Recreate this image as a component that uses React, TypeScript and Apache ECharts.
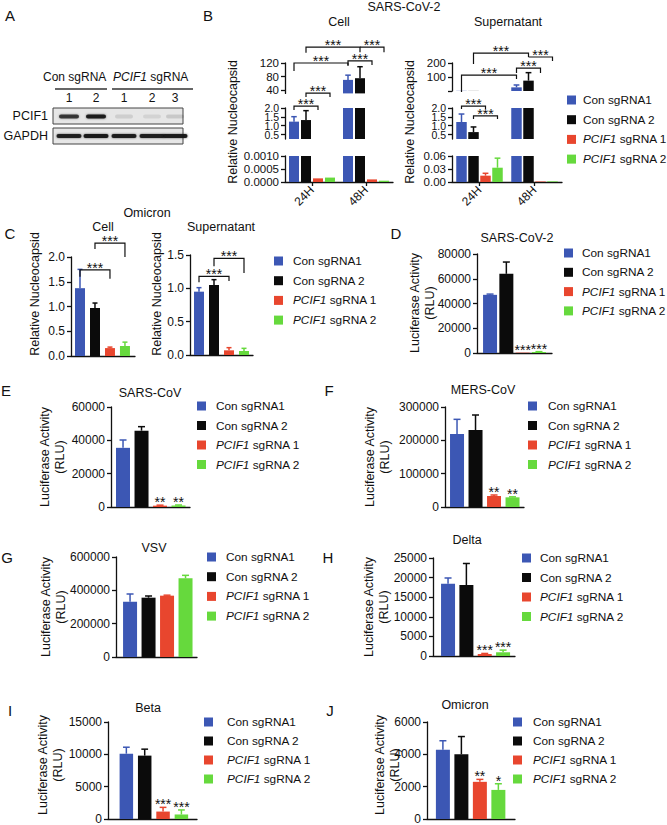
import React, { useEffect, useRef } from 'react';
import * as echarts from 'echarts';

const FONT = '"Liberation Sans", Arial, Helvetica, sans-serif';
const INK = '#111111';
const groupColors = ['#3c57b4', '#0b0b0b', '#e8462e', '#66d93d'];
const legendLabels = ['Con sgRNA1', 'Con sgRNA 2', '{i|PCIF1} sgRNA 1', '{i|PCIF1} sgRNA 2'];

// ---------- A: western blot
const blotLanes = ['1', '2', '1', '2', '3'];
const pcif1Signal = [0.8, 0.95, 0.1, 0.08, 0.12];
const gapdhSignal = [0.92, 0.97, 0.94, 0.93, 0.95];

// ---------- B: SARS-CoV-2 (broken axes)
const timeCategories = ['24H', '48H'];
const bCellCon1 = [1.23, 70];
const bCellCon2 = [1.32, 75];
const bCellPcif1 = [0.00014, 0.0001];
const bCellPcif2 = [0.00017, 0.00005];
const bCellCon1Err = [0.28, 14];
const bCellCon2Err = [0.53, 34];
const bCellPcif1Err = [0, 0];
const bCellPcif2Err = [0, 0];
const bSupCon1 = [1.21, 26];
const bSupCon2 = [0.64, 74];
const bSupPcif1 = [0.0146, 0.0012];
const bSupPcif2 = [0.033, 0.0015];
const bSupCon1Err = [0.45, 17];
const bSupCon2Err = [0.29, 57];
const bSupPcif1Err = [0.0055, 0];
const bSupPcif2Err = [0.022, 0];
const bCellRanges = [[30, 120], [0.25, 2], [0, 0.001]];
const bCellTicks = [[40, 80, 120], [0.5, 1, 1.5, 2], [0, 0.0005, 0.001]];
const bCellLabels = [[40, 80, 120], [0.5, 1, 1.5, 2], [0, 0.0005, 0.001]];
const bSupRanges = [[0, 200], [0.25, 2], [0, 0.06]];
const bSupTicks = [[0, 100, 200], [0.5, 1, 1.5, 2], [0, 0.03, 0.06]];
const bSupLabels = [[100, 200], [0.5, 1, 1.5, 2], [0, 0.03, 0.06]];
// [segment, fromSeries, fromCat, toSeries, toCat, lineValue, leftEnd, rightEnd]
const bCellBrackets = [
  [1, 0, 0, 2, 0, 2.11, 1.89, 1.89],
  [0, 1, 0, 3, 0, 31, 19, 19],
  [0, 0, 0, 0, 1, 120, 96, 111],
  [0, 1, 0, 1, 1, 167, 150, 152],
  [0, 0, 1, 2, 1, 126, 114, 114],
  [0, 1, 1, 3, 1, 167, 167, 152],
];
const bSupBrackets = [
  [1, 0, 0, 2, 0, 2.11, 1.94, 1.94],
  [1, 1, 0, 3, 0, 1.55, 1.38, 1.38],
  [0, 0, 0, 0, 1, 114, -7, 86],
  [0, 1, 0, 1, 1, 271, 193, 243],
  [0, 0, 1, 2, 1, 164, 129, 129],
  [0, 1, 1, 3, 1, 243, 243, 214],
];

// ---------- C: Omicron nucleocapsid
const cCellMean = [1.37, 0.97, 0.16, 0.2];
const cCellErr = [0.38, 0.1, 0.02, 0.08];
const cSupMean = [0.95, 1.05, 0.07, 0.06];
const cSupErr = [0.06, 0.08, 0.04, 0.04];
// [fromIdx, toIdx, lineValue, leftEnd, rightEnd]
const cCellBrackets = [[0, 2, 1.74, 1.6, 1.56], [1, 3, 2.28, 2.16, 2.0]];
const cSupBrackets = [[0, 2, 1.18, 1.09, 1.11], [1, 3, 1.45, 1.33, 1.23]];

// ---------- D - J: luciferase activity (RLU)
const dMean = [47000, 64000, 300, 800];
const dErr = [600, 9500, 0, 300];
const dSig = ['', '', '***', '***'];
const eMean = [35500, 45800, 800, 900];
const eErr = [4700, 2400, 300, 300];
const eSig = ['', '', '**', '**'];
const fMean = [219000, 231000, 33000, 29000];
const fErr = [44000, 45000, 3000, 1500];
const fSig = ['', '', '**', '**'];
const gMean = [332000, 356000, 368000, 472000];
const gErr = [46000, 10000, 3000, 18000];
const gSig = ['', '', '', ''];
const hMean = [18400, 18100, 500, 950];
const hErr = [1500, 5500, 150, 550];
const hSig = ['', '', '***', '***'];
const iMean = [10100, 9800, 1150, 700];
const iErr = [1000, 1000, 650, 700];
const iSig = ['', '', '***', '***'];
const jMean = [4280, 4000, 2300, 1800];
const jErr = [560, 1100, 150, 380];
const jSig = ['', '', '**', '*'];

// ---------- helpers
const lineStyle = { color: INK, width: 1.3 };

function txt(text: string, x: number, y: number, o: any = {}) {
  const size = o.size ?? 12.5;
  const align = o.align ?? 'center';
  const va = o.va ?? 'middle';
  return {
    type: 'text',
    x,
    y,
    rotation: o.rotation ?? 0,
    z: 20,
    style: {
      text,
      fontSize: size,
      fontFamily: FONT,
      fontStyle: o.italic ? 'italic' : 'normal',
      fill: INK,
      align,
      verticalAlign: va,
      textAlign: align,
      textVerticalAlign: va,
      lineHeight: o.lineHeight,
      rich: {
        i: { fontStyle: 'italic', fontSize: size, fontFamily: FONT, fill: INK },
      },
    },
  };
}

function starText(s: string, x: number, y: number) {
  return {
    type: 'text',
    x,
    y,
    style: {
      text: s,
      fontSize: 14,
      fontFamily: FONT,
      fill: INK,
      align: 'center',
      verticalAlign: 'middle',
      textAlign: 'center',
      textVerticalAlign: 'middle',
    },
  };
}

function errGroup(x: number, yBase: number, yTop: number, hasErr: boolean, color: string, cap: number, star: string) {
  const ch: any[] = [];
  if (hasErr) {
    ch.push({ type: 'line', shape: { x1: x, y1: yBase, x2: x, y2: yTop }, style: { stroke: color, lineWidth: 1.5 } });
    ch.push({ type: 'line', shape: { x1: x - cap / 2, y1: yTop, x2: x + cap / 2, y2: yTop }, style: { stroke: color, lineWidth: 1.5 } });
  }
  if (star) ch.push(starText(star, x, yTop - 3));
  return { type: 'group', children: ch };
}

function bracketGroup(x1: number, x2: number, yLine: number, yL: number, yR: number) {
  return {
    type: 'group',
    children: [
      {
        type: 'polyline',
        shape: { points: [[x1, yL], [x1, yLine], [x2, yLine], [x2, yR]] },
        style: { stroke: INK, lineWidth: 1.2, fill: 'none' },
      },
      starText('***', (x1 + x2) / 2, yLine - 2),
    ],
  };
}

function buildOption() {
  const grid: any[] = [];
  const xAxis: any[] = [];
  const yAxis: any[] = [];
  const series: any[] = [];
  const elements: any[] = [];

  // ---------- simple bar panel
  function addSimple(p: any) {
    const gi = grid.length;
    const xi = xAxis.length;
    const yi = yAxis.length;
    grid.push({ left: p.left, top: p.top, width: p.width, height: p.height, containLabel: false });
    xAxis.push({
      type: 'value', gridIndex: gi, min: p.xMin, max: p.xMax,
      axisLine: { show: true, onZero: false, lineStyle },
      axisTick: { show: false }, axisLabel: { show: false }, splitLine: { show: false },
    });
    yAxis.push({
      type: 'value', gridIndex: gi, min: 0, max: p.yMax, interval: p.yInt,
      axisLine: { show: true, onZero: false, lineStyle },
      axisTick: { show: true, length: 4, lineStyle },
      axisLabel: {
        fontSize: 12, fontFamily: FONT, color: INK, margin: 6,
        showMinLabel: true, showMaxLabel: true,
        formatter: p.fmt || ((v: number) => String(v)),
      },
      splitLine: { show: false },
    });
    series.push({
      type: 'bar', xAxisIndex: xi, yAxisIndex: yi, barWidth: p.barW,
      data: p.mean.map((v: number, i: number) => ({ value: [i, v], itemStyle: { color: groupColors[i] } })),
    });
    const items = p.mean.map((v: number, i: number) => [i, v, p.err[i]]);
    series.push({
      type: 'custom', xAxisIndex: xi, yAxisIndex: yi, z: 4, clip: false,
      data: items,
      renderItem: (params: any, api: any) => {
        const [i, m, e] = items[params.dataIndex];
        const b = api.coord([i, m]);
        const t = api.coord([i, m + e]);
        return errGroup(b[0], b[1], t[1], e > 0, groupColors[i], p.barW * 0.5, (p.sig || [])[i] || '');
      },
    });
    if (p.brackets) {
      const br = p.brackets;
      series.push({
        type: 'custom', xAxisIndex: xi, yAxisIndex: yi, z: 4, clip: false,
        data: br.map((b: number[]) => [b[0], b[2]]),
        renderItem: (params: any, api: any) => {
          const [f, t, line, l, r] = br[params.dataIndex];
          const pl = api.coord([f, line]);
          const pr = api.coord([t, line]);
          return bracketGroup(pl[0], pr[0], pl[1], api.coord([f, l])[1], api.coord([t, r])[1]);
        },
      });
    }
  }

  // ---------- broken-axis panel (B)
  function addBroken(p: any) {
    const step = p.barW + p.gap;
    const segAxes: [number, number][] = [];
    const nSeg = p.segs.length;
    const homeSeg = (m: number) => {
      for (let s = nSeg - 1; s >= 0; s--) {
        const [mn, mx] = p.ranges[s];
        if (m >= mn && m <= mx) return s;
      }
      return -1;
    };
    p.segs.forEach((sg: any, si: number) => {
      const gi = grid.length;
      const xi = xAxis.length;
      const yi = yAxis.length;
      segAxes.push([xi, yi]);
      const isLow = si === nSeg - 1;
      const [mn, mx] = p.ranges[si];
      grid.push({ left: p.left, width: p.width, top: sg.top, height: sg.height, containLabel: false });
      xAxis.push({
        type: 'category', gridIndex: gi, data: timeCategories, show: isLow,
        axisLine: { show: true, onZero: false, lineStyle },
        axisTick: { show: true, alignWithLabel: true, length: 4, lineStyle },
        axisLabel: { rotate: 45, fontSize: 12, fontFamily: FONT, color: INK, margin: 6 },
        splitLine: { show: false },
      });
      const labs: number[] = p.labels[si];
      // crowded segments: alternate labels between two overlaid axes so none is dropped
      const crowded = sg.split;
      const labA = crowded ? labs.filter((_, i) => i % 2 === 0) : labs;
      const labB = crowded ? labs.filter((_, i) => i % 2 === 1) : [];
      const labelCfg = (vals: number[]) => ({
        fontSize: crowded ? 10.5 : 11.5, fontFamily: FONT, color: INK, margin: 6,
        customValues: vals,
        showMinLabel: true, showMaxLabel: true, hideOverlap: false,
        formatter: (v: number) => Number(v).toFixed(sg.digits),
      });
      yAxis.push({
        type: 'value', gridIndex: gi, min: mn, max: mx,
        axisLine: { show: true, onZero: false, lineStyle },
        axisTick: { show: true, length: 4, lineStyle, customValues: p.ticks[si] },
        axisLabel: labelCfg(labA),
        splitLine: { show: false },
      });
      if (crowded) {
        yAxis.push({
          type: 'value', gridIndex: gi, min: mn, max: mx, position: 'left', offset: 0,
          axisLine: { show: false, onZero: false },
          axisTick: { show: false },
          axisLabel: labelCfg(labB),
          splitLine: { show: false },
        });
      }
      p.means.forEach((vals: number[], k: number) => {
        series.push({
          type: 'bar', xAxisIndex: xi, yAxisIndex: yi, barWidth: p.barW,
          barGap: (p.gap / p.barW) * 100 + '%', clip: true,
          itemStyle: { color: groupColors[k] },
          data: vals,
        });
      });
      const items: number[][] = [];
      p.means.forEach((vals: number[], k: number) =>
        vals.forEach((v: number, c: number) => items.push([c, v, p.errs[k][c], k])),
      );
      series.push({
        type: 'custom', xAxisIndex: xi, yAxisIndex: yi, z: 4, clip: false,
        data: items.map((it) => [it[0], it[1]]),
        renderItem: (params: any, api: any) => {
          const [c, m, e, k] = items[params.dataIndex];
          if (!(e > 0) || homeSeg(m) !== si) return { type: 'group', children: [] };
          const b = api.coord([c, m]);
          const t = api.coord([c, m + e]);
          const x = b[0] + (k - 1.5) * step;
          return errGroup(x, b[1], t[1], true, groupColors[k], p.barW * 0.55, '');
        },
      });
    });
    [0, 1].forEach((seg) => {
      const br = p.brackets.filter((b: number[]) => b[0] === seg);
      if (!br.length) return;
      const [xi, yi] = segAxes[seg];
      series.push({
        type: 'custom', xAxisIndex: xi, yAxisIndex: yi, z: 5, clip: false,
        data: br.map((b: number[]) => [b[2], b[5]]),
        renderItem: (params: any, api: any) => {
          const [, fs, fc, ts, tc, line, l, r] = br[params.dataIndex];
          const pl = api.coord([fc, line]);
          const pr = api.coord([tc, line]);
          const x1 = pl[0] + (fs - 1.5) * step;
          const x2 = pr[0] + (ts - 1.5) * step;
          return bracketGroup(x1, x2, pl[1], api.coord([fc, l])[1], api.coord([tc, r])[1]);
        },
      });
    });
  }

  function addLegend(sqX: number, textX: number, y0: number, stepY: number) {
    legendLabels.forEach((lab, i) => {
      const y = y0 + i * stepY;
      elements.push({ type: 'rect', shape: { x: sqX, y: y - 4.5, width: 9, height: 9 }, style: { fill: groupColors[i] }, z: 20 });
      elements.push(txt(lab, textX, y, { align: 'left', size: 11.8 }));
    });
  }

  // ---------- Panel A (blot)
  const laneX = [69, 96, 124, 152, 175];
  elements.push(txt('Con sgRNA', 43, 77, { align: 'left', size: 12 }));
  elements.push({ type: 'line', shape: { x1: 55, y1: 89, x2: 107, y2: 89 }, style: { stroke: '#333', lineWidth: 1.3 }, z: 20 });
  elements.push(txt('{i|PCIF1} sgRNA', 113, 77, { align: 'left', size: 12 }));
  elements.push({ type: 'line', shape: { x1: 112, y1: 89, x2: 193, y2: 89 }, style: { stroke: '#333', lineWidth: 1.3 }, z: 20 });
  blotLanes.forEach((l, i) => elements.push(txt(l, laneX[i], 98, { size: 12 })));
  elements.push({ type: 'rect', shape: { x: 53, y: 108, width: 130, height: 16 }, style: { fill: '#e6e6e6', stroke: '#444', lineWidth: 1 }, z: 10 });
  elements.push({ type: 'rect', shape: { x: 53, y: 128, width: 130, height: 16 }, style: { fill: '#e6e6e6', stroke: '#444', lineWidth: 1 }, z: 10 });
  pcif1Signal.forEach((s, i) => {
    const w = i < 2 ? 20 : 18;
    elements.push({
      type: 'rect', shape: { x: laneX[i] - w / 2, y: 114.5, width: w, height: 4, r: 2 },
      style: { fill: `rgba(25,25,25,${s})`, shadowBlur: 2, shadowColor: `rgba(25,25,25,${s * 0.6})` }, z: 15,
    });
  });
  gapdhSignal.forEach((s, i) => {
    elements.push({
      type: 'rect', shape: { x: laneX[i] - 12.5, y: 134, width: 25, height: 4, r: 2 },
      style: { fill: `rgba(20,20,20,${s})`, shadowBlur: 2, shadowColor: 'rgba(20,20,20,0.6)' }, z: 15,
    });
  });
  elements.push(txt('PCIF1', 48, 116, { align: 'right' }));
  elements.push(txt('GAPDH', 48, 136, { align: 'right' }));

  // ---------- Panel letters
  const letters: [string, number, number][] = [
    ['A', 10, 15], ['B', 208, 15], ['C', 10, 233], ['D', 396, 233], ['E', 6, 390], ['F', 329, 390],
    ['G', 7, 557], ['H', 328, 557], ['I', 10, 710], ['J', 330, 710],
  ];
  letters.forEach(([t, x, y]) => elements.push(txt(t, x, y, { size: 15 })));

  // ---------- Panel B
  elements.push(txt('SARS-CoV-2', 404, 7));
  elements.push(txt('Cell', 339, 22));
  elements.push(txt('Supernatant', 508, 22));
  addBroken({
    left: 285, width: 108, barW: 10, gap: 2,
    segs: [
      { top: 63, height: 30.4, digits: 0 },
      { top: 108, height: 31, digits: 1, split: true },
      { top: 156, height: 26, digits: 4 },
    ],
    ranges: bCellRanges, ticks: bCellTicks, labels: bCellLabels,
    means: [bCellCon1, bCellCon2, bCellPcif1, bCellPcif2],
    errs: [bCellCon1Err, bCellCon2Err, bCellPcif1Err, bCellPcif2Err],
    brackets: bCellBrackets,
  });
  addBroken({
    left: 452, width: 110, barW: 10.5, gap: 1.5,
    segs: [
      { top: 63, height: 28, digits: 0 },
      { top: 108, height: 31, digits: 1, split: true },
      { top: 156, height: 26, digits: 2 },
    ],
    ranges: bSupRanges, ticks: bSupTicks, labels: bSupLabels,
    means: [bSupCon1, bSupCon2, bSupPcif1, bSupPcif2],
    errs: [bSupCon1Err, bSupCon2Err, bSupPcif1Err, bSupPcif2Err],
    brackets: bSupBrackets,
  });
  elements.push(txt('Relative Nucleocapsid', 233, 122, { rotation: Math.PI / 2 }));
  elements.push(txt('Relative Nucleocapsid', 410, 122, { rotation: Math.PI / 2 }));
  addLegend(567, 583, 100, 19.7);

  // ---------- Panel C
  elements.push(txt('Omicron', 147, 213));
  elements.push(txt('Cell', 103, 227));
  elements.push(txt('Supernatant', 221, 227));
  const fmt1 = (v: number) => v.toFixed(1);
  addSimple({ left: 71, width: 64, top: 257, height: 99, xMin: -0.6, xMax: 3.67, yMax: 2, yInt: 0.5, barW: 10, fmt: fmt1, mean: cCellMean, err: cCellErr, brackets: cCellBrackets });
  addSimple({ left: 190, width: 63, top: 255, height: 100, xMin: -0.6, xMax: 3.6, yMax: 1.5, yInt: 0.5, barW: 10, fmt: fmt1, mean: cSupMean, err: cSupErr, brackets: cSupBrackets });
  elements.push(txt('Relative Nucleocapsid', 35, 294, { rotation: Math.PI / 2 }));
  elements.push(txt('Relative Nucleocapsid', 157, 294, { rotation: Math.PI / 2 }));
  addLegend(274, 293, 261, 19.7);

  // ---------- RLU panels
  const rlu = 'Luciferase Activity\n(RLU)';
  // D
  elements.push(txt('SARS-CoV-2', 517, 238));
  addSimple({ left: 477, width: 75, top: 254, height: 99, xMin: -0.8, xMax: 3.8, yMax: 80000, yInt: 20000, barW: 14, mean: dMean, err: dErr, sig: dSig });
  elements.push(txt(rlu, 422, 303, { rotation: Math.PI / 2, lineHeight: 15 }));
  addLegend(564, 582, 253, 19.3);
  // E
  elements.push(txt('SARS-CoV', 150, 393));
  addSimple({ left: 111, width: 79, top: 407, height: 100, xMin: -0.65, xMax: 3.62, yMax: 60000, yInt: 20000, barW: 14, mean: eMean, err: eErr, sig: eSig });
  elements.push(txt(rlu, 52, 457, { rotation: Math.PI / 2, lineHeight: 15 }));
  addLegend(197, 216, 406, 19.5);
  // F
  elements.push(txt('MERS-CoV', 483, 390));
  addSimple({ left: 445, width: 79, top: 407, height: 100, xMin: -0.65, xMax: 3.62, yMax: 300000, yInt: 100000, barW: 14, mean: fMean, err: fErr, sig: fSig });
  elements.push(txt(rlu, 377, 457, { rotation: Math.PI / 2, lineHeight: 15 }));
  addLegend(528, 548, 406, 19.5);
  // G
  elements.push(txt('VSV', 154, 548));
  addSimple({ left: 116, width: 81, top: 557, height: 100, xMin: -0.76, xMax: 3.62, yMax: 600000, yInt: 200000, barW: 14, mean: gMean, err: gErr, sig: gSig });
  elements.push(txt(rlu, 53, 607, { rotation: Math.PI / 2, lineHeight: 15 }));
  addLegend(207, 226, 557, 19.7);
  // H
  elements.push(txt('Delta', 467, 540));
  addSimple({ left: 433, width: 82, top: 558, height: 98, xMin: -0.82, xMax: 3.65, yMax: 25000, yInt: 5000, barW: 14, mean: hMean, err: hErr, sig: hSig });
  elements.push(txt(rlu, 376, 607, { rotation: Math.PI / 2, lineHeight: 15 }));
  addLegend(522, 540, 558, 19.5);
  // I
  elements.push(txt('Beta', 148, 708));
  addSimple({ left: 108, width: 89, top: 722, height: 98, xMin: -1.0, xMax: 3.85, yMax: 15000, yInt: 5000, barW: 13.5, mean: iMean, err: iErr, sig: iSig });
  elements.push(txt(rlu, 50, 765, { rotation: Math.PI / 2, lineHeight: 15 }));
  addLegend(204, 227, 722, 19);
  // J
  elements.push(txt('Omicron', 465, 705));
  addSimple({ left: 427, width: 88, top: 722, height: 98, xMin: -0.86, xMax: 3.9, yMax: 6000, yInt: 2000, barW: 14, mean: jMean, err: jErr, sig: jSig });
  elements.push(txt(rlu, 387, 765, { rotation: Math.PI / 2, lineHeight: 15 }));
  addLegend(513, 533, 722, 19);

  return {
    animation: false,
    backgroundColor: '#ffffff',
    textStyle: { fontFamily: FONT },
    grid,
    xAxis,
    yAxis,
    series,
    graphic: { elements },
  };
}

export default function App() {
  const ref = useRef<HTMLDivElement>(null);
  useEffect(() => {
    if (!ref.current) return;
    const chart = echarts.init(ref.current, undefined, { renderer: 'svg', width: 667, height: 825 });
    chart.setOption(buildOption() as any);
    return () => chart.dispose();
  }, []);
  return (
    <div
      ref={ref}
      style={{ position: 'absolute', left: 0, top: 0, width: 667, height: 825, background: '#fff' }}
    />
  );
}
